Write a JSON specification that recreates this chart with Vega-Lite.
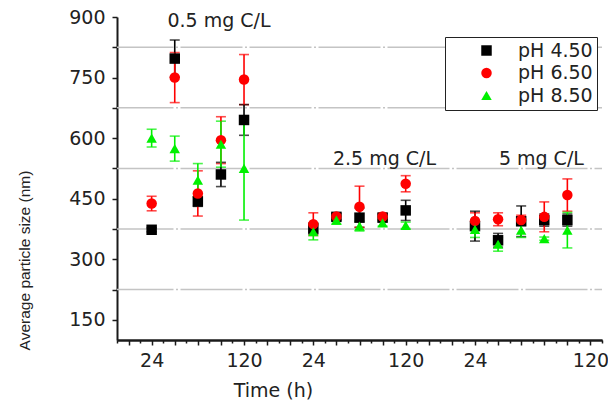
{
  "$schema": "https://vega.github.io/schema/vega-lite/v6.json",
  "width": 485,
  "height": 323,
  "autosize": {"type": "none"},
  "padding": {"left": 117, "top": 17, "right": 6, "bottom": 65},
  "background": "white",
  "config": {
    "view": {"stroke": null},
    "axis": {
      "domainColor": "#1a1a1a", "domainWidth": 2,
      "tickColor": "#1a1a1a", "tickWidth": 1.5,
      "labelFont": "DejaVu Sans", "labelFontSize": 19, "labelColor": "#222",
      "grid": false, "titleColor": "#222", "titleFontWeight": "normal"
    }
  },
  "datasets": {
    "pts": [
      {"ph": "pH 4.50", "t": 36, "v": 373, "e": 5},
      {"ph": "pH 4.50", "t": 60, "v": 797, "e": 46},
      {"ph": "pH 4.50", "t": 84, "v": 443, "e": 12},
      {"ph": "pH 4.50", "t": 108, "v": 510, "e": 30},
      {"ph": "pH 4.50", "t": 132, "v": 645, "e": 38},
      {"ph": "pH 4.50", "t": 204, "v": 376, "e": 14},
      {"ph": "pH 4.50", "t": 228, "v": 405, "e": 8},
      {"ph": "pH 4.50", "t": 252, "v": 403, "e": 24},
      {"ph": "pH 4.50", "t": 276, "v": 403, "e": 8},
      {"ph": "pH 4.50", "t": 300, "v": 421, "e": 25},
      {"ph": "pH 4.50", "t": 372, "v": 382, "e": 37},
      {"ph": "pH 4.50", "t": 396, "v": 347, "e": 17},
      {"ph": "pH 4.50", "t": 420, "v": 394, "e": 38},
      {"ph": "pH 4.50", "t": 444, "v": 397, "e": 15},
      {"ph": "pH 4.50", "t": 468, "v": 397, "e": 15},
      {"ph": "pH 6.50", "t": 36, "v": 438, "e": 18},
      {"ph": "pH 6.50", "t": 60, "v": 750, "e": 62},
      {"ph": "pH 6.50", "t": 84, "v": 463, "e": 56},
      {"ph": "pH 6.50", "t": 108, "v": 595, "e": 58},
      {"ph": "pH 6.50", "t": 132, "v": 745, "e": 62},
      {"ph": "pH 6.50", "t": 204, "v": 387, "e": 28},
      {"ph": "pH 6.50", "t": 228, "v": 406, "e": 8},
      {"ph": "pH 6.50", "t": 252, "v": 430, "e": 51},
      {"ph": "pH 6.50", "t": 276, "v": 406, "e": 8},
      {"ph": "pH 6.50", "t": 300, "v": 487, "e": 20},
      {"ph": "pH 6.50", "t": 372, "v": 395, "e": 20},
      {"ph": "pH 6.50", "t": 396, "v": 399, "e": 16},
      {"ph": "pH 6.50", "t": 420, "v": 397, "e": 12},
      {"ph": "pH 6.50", "t": 444, "v": 405, "e": 37},
      {"ph": "pH 6.50", "t": 468, "v": 459, "e": 40},
      {"ph": "pH 8.50", "t": 36, "v": 600, "e": 22},
      {"ph": "pH 8.50", "t": 60, "v": 574, "e": 31},
      {"ph": "pH 8.50", "t": 84, "v": 496, "e": 41},
      {"ph": "pH 8.50", "t": 108, "v": 585, "e": 57},
      {"ph": "pH 8.50", "t": 132, "v": 525, "e": 128},
      {"ph": "pH 8.50", "t": 204, "v": 368, "e": 20},
      {"ph": "pH 8.50", "t": 228, "v": 397, "e": 10},
      {"ph": "pH 8.50", "t": 252, "v": 382, "e": 12},
      {"ph": "pH 8.50", "t": 276, "v": 390, "e": 8},
      {"ph": "pH 8.50", "t": 300, "v": 384, "e": 8},
      {"ph": "pH 8.50", "t": 372, "v": 374, "e": 20},
      {"ph": "pH 8.50", "t": 396, "v": 337, "e": 17},
      {"ph": "pH 8.50", "t": 420, "v": 372, "e": 18},
      {"ph": "pH 8.50", "t": 444, "v": 351, "e": 4},
      {"ph": "pH 8.50", "t": 468, "v": 372, "e": 44}
    ],
    "grid": [{"g": 225}, {"g": 375}, {"g": 525}, {"g": 675}, {"g": 825}],
    "notes": [
      {"txt": "0.5 mg C/L", "t": 106, "v": 875},
      {"txt": "2.5 mg C/L", "t": 278, "v": 533},
      {"txt": "5 mg C/L", "t": 441, "v": 533}
    ]
  },
  "layer": [
    {
      "data": {"name": "grid"},
      "mark": {"type": "rule", "color": "#c4c4c4", "strokeWidth": 1.5, "strokeDash": [62, 2.5, 2, 2.5], "strokeDashOffset": 54.5},
      "encoding": {
        "y": {"field": "g", "type": "quantitative", "scale": {"domain": [100, 900], "nice": false, "zero": false},
          "axis": {"title": "Average particle size (nm)", "values": [150, 225, 300, 375, 450, 525, 600, 675, 750, 825, 900], "labelExpr": "datum.value % 150 === 0 ? datum.label : ''", "tickSize": 5, "labelPadding": 7, "labelOverlap": false, "titleFont": "Liberation Sans", "titleFontSize": 15.5, "titleX": -93, "titleY": 243, "titleAngle": -90, "titleAlign": "center", "titleBaseline": "middle"}}
      }
    },
    {
      "data": {"name": "pts"},
      "mark": {"type": "errorbar", "ticks": {"size": 10}, "thickness": 1.6},
      "encoding": {
        "x": {"field": "t", "type": "quantitative", "scale": {"domain": [0, 504], "nice": false, "zero": false},
          "axis": {"orient": "bottom", "values": [0, 24, 48, 72, 96, 120, 144, 168, 192, 216, 240, 264, 288, 312, 336, 360, 384, 408, 432, 456, 480, 504], "tickSize": 3, "labels": false, "title": null}},
        "y": {"field": "v", "type": "quantitative", "scale": {"domain": [100, 900], "nice": false, "zero": false},
          "axis": {"title": "Average particle size (nm)", "values": [150, 225, 300, 375, 450, 525, 600, 675, 750, 825, 900], "labelExpr": "datum.value % 150 === 0 ? datum.label : ''", "tickSize": 5, "labelPadding": 7, "labelOverlap": false, "titleFont": "Liberation Sans", "titleFontSize": 15.5, "titleX": -93, "titleY": 243, "titleAngle": -90, "titleAlign": "center", "titleBaseline": "middle"}},
        "yError": {"field": "e"},
        "color": {"field": "ph", "type": "nominal", "scale": {"domain": ["pH 4.50", "pH 6.50", "pH 8.50"], "range": ["#000000", "#ff0000", "#00f000"]}}
      }
    },
    {
      "data": {"name": "pts"},
      "mark": {"type": "point", "filled": true, "opacity": 1, "size": 110},
      "encoding": {
        "x": {"field": "t", "type": "quantitative", "scale": {"domain": [0, 504], "nice": false, "zero": false},
          "axis": {"orient": "bottom", "values": [12, 36, 60, 84, 108, 132, 156, 180, 204, 228, 252, 276, 300, 324, 348, 372, 396, 420, 444, 468, 492], "tickSize": 5, "labelPadding": 6, "labelOverlap": false, "labelExpr": "datum.value == 36 || datum.value == 204 || datum.value == 372 ? '24' : (datum.value == 132 || datum.value == 300 || datum.value == 492 ? '120' : '')", "title": "Time (h)", "titleFont": "DejaVu Sans", "titleFontSize": 19, "titleX": 156, "titleY": 50, "titleAlign": "center", "titleBaseline": "middle"}},
        "y": {"field": "v", "type": "quantitative", "scale": {"domain": [100, 900], "nice": false, "zero": false},
          "axis": {"title": "Average particle size (nm)", "values": [150, 225, 300, 375, 450, 525, 600, 675, 750, 825, 900], "labelExpr": "datum.value % 150 === 0 ? datum.label : ''", "tickSize": 5, "labelPadding": 7, "labelOverlap": false, "titleFont": "Liberation Sans", "titleFontSize": 15.5, "titleX": -93, "titleY": 243, "titleAngle": -90, "titleAlign": "center", "titleBaseline": "middle"}},
        "color": {"field": "ph", "type": "nominal", "scale": {"domain": ["pH 4.50", "pH 6.50", "pH 8.50"], "range": ["#000000", "#ff0000", "#00f000"]},
          "legend": {"title": null, "orient": "none", "legendX": 328, "legendY": 20, "padding": 4, "fillColor": "white", "strokeColor": "#222", "labelFont": "DejaVu Sans", "labelFontSize": 19, "labelColor": "#222", "symbolSize": 110, "symbolOpacity": 1, "symbolOffset": 28, "labelOffset": 22, "rowPadding": 2.5, "symbolStrokeWidth": 0,
            "encode": {"symbols": {"update": {"opacity": {"value": 1}, "fillOpacity": {"value": 1}}}}}},
        "shape": {"field": "ph", "type": "nominal", "scale": {"domain": ["pH 4.50", "pH 6.50", "pH 8.50"], "range": ["square", "circle", "triangle-up"]},
          "legend": {"title": null, "orient": "none", "legendX": 328, "legendY": 20, "padding": 4, "fillColor": "white", "strokeColor": "#222", "labelFont": "DejaVu Sans", "labelFontSize": 19, "labelColor": "#222", "symbolSize": 110, "symbolOpacity": 1, "symbolOffset": 28, "labelOffset": 22, "rowPadding": 2.5, "symbolStrokeWidth": 0,
            "encode": {"symbols": {"update": {"opacity": {"value": 1}, "fillOpacity": {"value": 1}}}}}}
      }
    },
    {
      "data": {"name": "notes"},
      "mark": {"type": "text", "font": "DejaVu Sans", "fontSize": 19, "color": "#222", "align": "center", "baseline": "alphabetic"},
      "encoding": {
        "x": {"field": "t", "type": "quantitative", "scale": {"domain": [0, 504], "nice": false, "zero": false}, "axis": null},
        "y": {"field": "v", "type": "quantitative", "scale": {"domain": [100, 900], "nice": false, "zero": false},
          "axis": {"title": "Average particle size (nm)", "values": [150, 225, 300, 375, 450, 525, 600, 675, 750, 825, 900], "labelExpr": "datum.value % 150 === 0 ? datum.label : ''", "tickSize": 5, "labelPadding": 7, "labelOverlap": false, "titleFont": "Liberation Sans", "titleFontSize": 15.5, "titleX": -93, "titleY": 243, "titleAngle": -90, "titleAlign": "center", "titleBaseline": "middle"}},
        "text": {"field": "txt"}
      }
    }
  ],
  "resolve": {"axis": {"x": "independent"}}
}
